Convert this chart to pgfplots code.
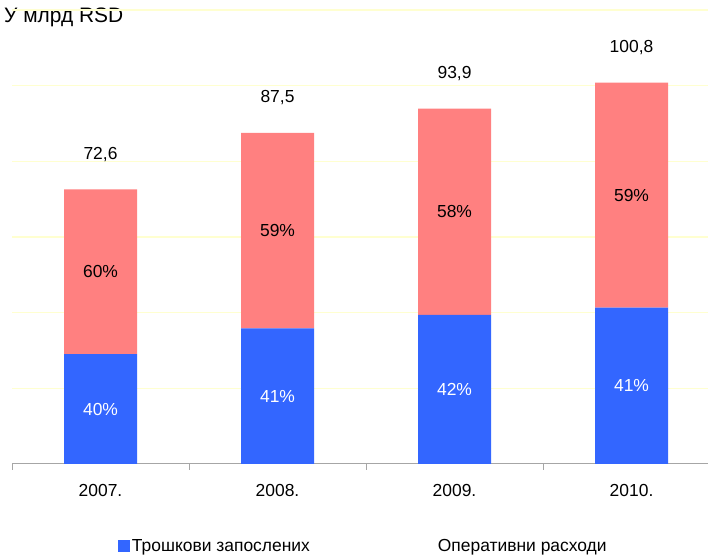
\documentclass[border=0pt]{standalone}
\usepackage{fontspec}
\setmainfont{Liberation Sans}
\usepackage{pgfplots}
\pgfplotsset{compat=1.18}
\definecolor{barblue}{HTML}{3366FF}
\definecolor{barred}{HTML}{FF8080}
\definecolor{gridyellow}{HTML}{FFFFD0}
\definecolor{axisgray}{HTML}{A6A6A6}
\newcommand{\lblfont}{\fontsize{17.5}{21}\selectfont}
\begin{document}
\begin{tikzpicture}[x=1bp,y=1bp]
\path[use as bounding box] (0,0) rectangle (708,555);
\node[anchor=base west,inner sep=0pt,font=\fontsize{21}{25}\selectfont] at (4,532) {У млрд RSD};
\begin{axis}[
  at={(12bp,91bp)}, anchor=south west,
  scale only axis, width=696bp, height=454bp,
  xmin=-0.5, xmax=3.432, ymin=0, ymax=120,
  ybar stacked, bar width=73bp,
  separate axis lines,
  axis x line*=bottom, axis y line*=left,
  y axis line style={draw=none},
  x axis line style={axisgray, line width=1bp},
  xtick={0,1,2,3}, xticklabels={2007.,2008.,2009.,2010.},
  major x tick style={draw=none},
  minor xtick={-0.5,0.5,1.5,2.5},
  minor x tick style={axisgray, line width=1bp},
  minor tick length=6bp, major tick length=0pt, tick align=outside,
  x tick label style={font=\lblfont, yshift=-17bp},
  ytick={20,40,...,120}, yticklabels={},
  major y tick style={draw=none},
  ymajorgrids, grid style={gridyellow, line width=1.2bp},
  legend style={at={(0.152,-0.181)}, anchor=west, draw=none, fill=none,
    inner sep=0pt, font=\lblfont,
    /tikz/every even column/.append style={column sep=124bp}},
  legend columns=2,
]
\addplot[fill=barblue, draw=none,
  legend image code/.code={\fill[barblue] (0bp,-6bp) rectangle (12bp,6bp);}]
  coordinates {(0,29.04) (1,35.875) (2,39.44) (3,41.33)};
\addlegendentry{Трошкови запослених}
\addplot[fill=barred, draw=none,
  legend image code/.code={}]
  coordinates {(0,43.56) (1,51.625) (2,54.46) (3,59.47)};
\addlegendentry{Оперативни расходи}
% totals
\coordinate (t0) at (axis cs:0,72.6);
\coordinate (t1) at (axis cs:1,87.5);
\coordinate (t2) at (axis cs:2,93.9);
\coordinate (t3) at (axis cs:3,100.8);
% segment midpoints
\coordinate (b0) at (axis cs:0,14.52);
\coordinate (b1) at (axis cs:1,17.94);
\coordinate (b2) at (axis cs:2,19.72);
\coordinate (b3) at (axis cs:3,20.66);
\coordinate (r0) at (axis cs:0,50.82);
\coordinate (r1) at (axis cs:1,61.69);
\coordinate (r2) at (axis cs:2,66.67);
\coordinate (r3) at (axis cs:3,71.07);
\end{axis}
\node[font=\lblfont] at ([yshift=35bp]t0) {72,6};
\node[font=\lblfont] at ([yshift=35bp]t1) {87,5};
\node[font=\lblfont] at ([yshift=35bp]t2) {93,9};
\node[font=\lblfont] at ([yshift=35bp]t3) {100,8};
\node[font=\lblfont, text=white] at (b0) {40\%};
\node[font=\lblfont, text=white] at (b1) {41\%};
\node[font=\lblfont, text=white] at (b2) {42\%};
\node[font=\lblfont, text=white] at (b3) {41\%};
\node[font=\lblfont] at (r0) {60\%};
\node[font=\lblfont] at (r1) {59\%};
\node[font=\lblfont] at (r2) {58\%};
\node[font=\lblfont] at (r3) {59\%};
\end{tikzpicture}
\end{document}
